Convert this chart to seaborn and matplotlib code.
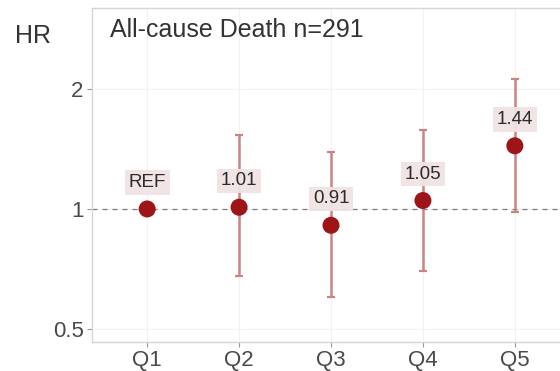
import matplotlib
matplotlib.use("Agg")
import matplotlib.pyplot as plt
import matplotlib.ticker as mticker
import seaborn as sns
import pandas as pd

# Hazard ratios by quintile with 95% confidence intervals
quintiles = ["Q1", "Q2", "Q3", "Q4", "Q5"]
hr = [1.00, 1.01, 0.91, 1.05, 1.44]
ci_low = [1.00, 0.68, 0.60, 0.70, 0.98]
ci_high = [1.00, 1.53, 1.39, 1.58, 2.12]
labels = ["REF", "1.01", "0.91", "1.05", "1.44"]
yticks = [0.5, 1, 2]

df = pd.DataFrame({"group": quintiles, "hr": hr, "lo": ci_low, "hi": ci_high, "label": labels})

sns.set_theme(style="white")
plt.rcParams["font.family"] = ["Liberation Sans", "DejaVu Sans"]

fig = plt.figure(figsize=(5.6, 3.71), dpi=100)
ax = fig.add_axes([92 / 560, 1 - 342 / 371, 478 / 560, 334 / 371])

point_color = "#9E1518"
bar_color = "#C98585"

# points first so the categorical axis keeps Q1..Q5 order
sns.scatterplot(data=df, x="group", y="hr", ax=ax, color=point_color,
                s=150, edgecolor="none", zorder=3, legend=False)

# confidence interval bars (skip the reference group)
ci = df[df["label"] != "REF"]
ax.errorbar(ci["group"], ci["hr"],
            yerr=[ci["hr"] - ci["lo"], ci["hi"] - ci["hr"]],
            fmt="none", ecolor=bar_color, elinewidth=1.8, capsize=3.0,
            capthick=1.6, zorder=2)

ax.axhline(1, color="#7a7a7a", lw=0.9, ls=(0, (4, 4)), zorder=1)

for i, row in df.iterrows():
    ax.annotate(row["label"], (i, row["hr"]), xytext=(0, 19),
                textcoords="offset points", ha="center", va="center",
                fontsize=13.5, color="#2b2b2b", zorder=4,
                bbox=dict(boxstyle="square,pad=0.2", fc="#F1E3E3",
                          ec="none", alpha=0.95))

ax.set_yscale("log")
ax.set_ylim(0.464, 3.19)
ax.set_xlim(-0.6, 4.6)
ax.yaxis.set_major_locator(mticker.FixedLocator(yticks))
ax.yaxis.set_major_formatter(mticker.FixedFormatter([f"{t:g}" for t in yticks]))
ax.yaxis.set_minor_locator(mticker.NullLocator())

ax.grid(True, color="#f2f2f2", lw=0.8, zorder=0)
ax.set_axisbelow(True)
for sp in ax.spines.values():
    sp.set_color("#d6d6d6")
    sp.set_linewidth(1.0)

ax.tick_params(axis="both", which="major", length=3.5, width=0.8,
               color="#9a9a9a", labelsize=16, labelcolor="#4a4a4a",
               left=True, bottom=True, pad=2.5)
ax.set_xlabel("")
ax.set_ylabel("")

fig.text(15 / 560, 1 - 36 / 371, "HR", fontsize=18, color="#333333",
         ha="left", va="center")
ax.text(18 / 478, 1 - 22 / 334, "All-cause Death n=291", transform=ax.transAxes,
        fontsize=18, color="#333333", ha="left", va="center")

fig.savefig("out.png", dpi=100)
